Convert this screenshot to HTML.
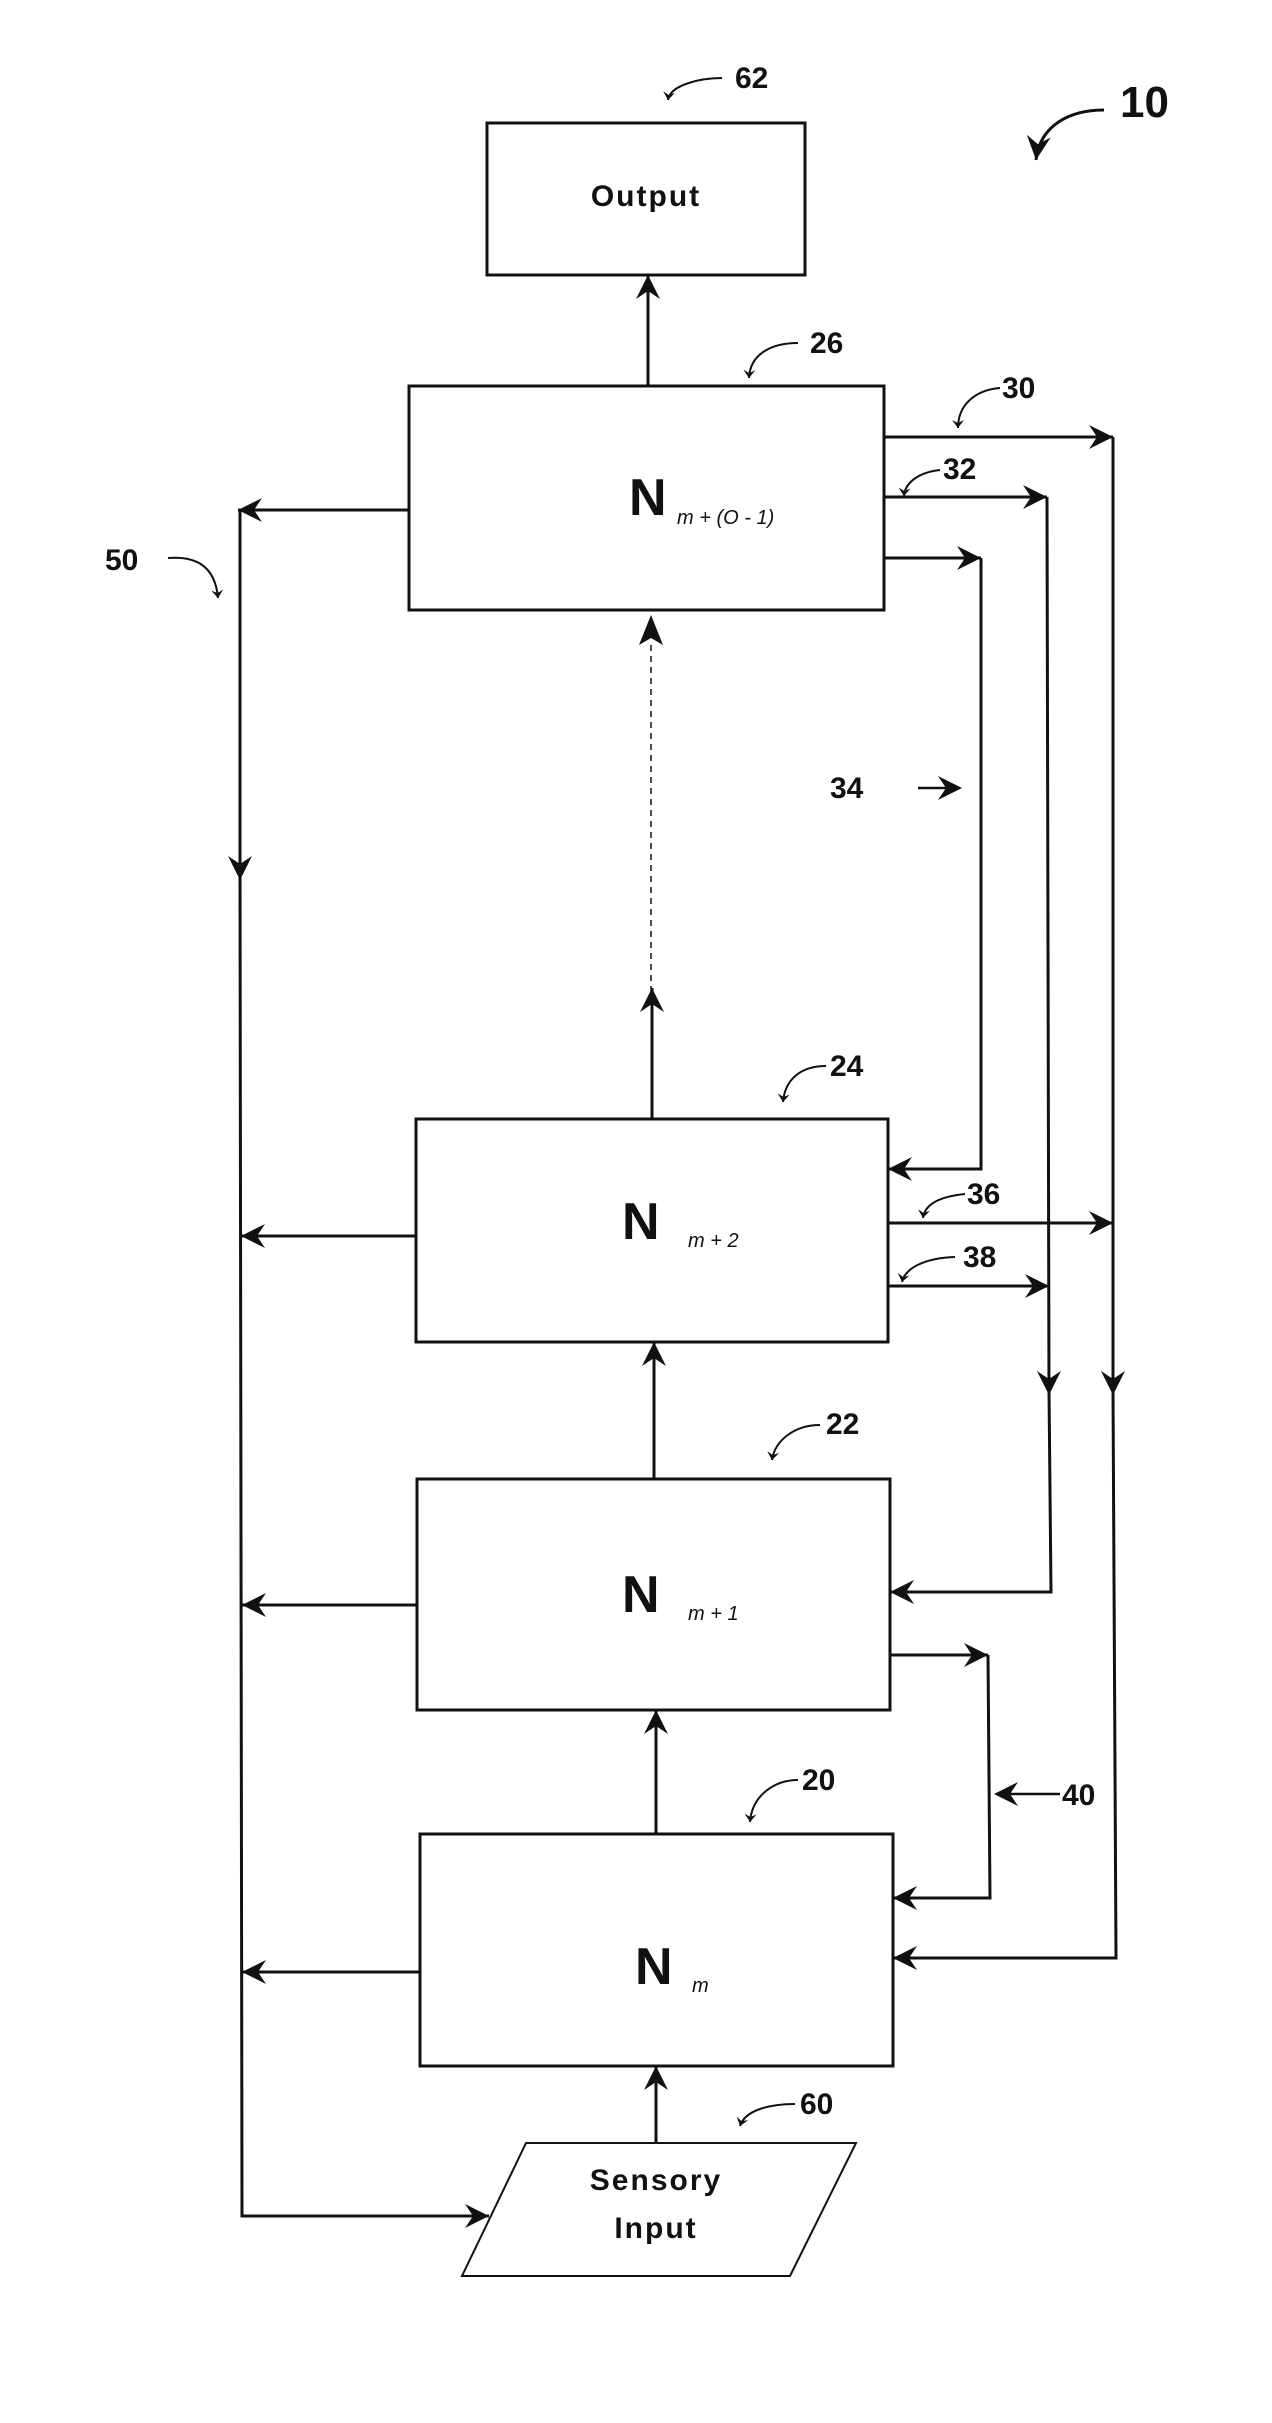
<!DOCTYPE html>
<html><head><meta charset="utf-8"><style>
html,body{margin:0;padding:0;background:#fff;}
svg{display:block;}
text{font-family:"Liberation Sans",sans-serif;fill:#111;}
</style></head><body>
<svg width="1272" height="2423" viewBox="0 0 1272 2423" xmlns="http://www.w3.org/2000/svg">
<defs>
<marker id="a" markerUnits="userSpaceOnUse" markerWidth="30" markerHeight="30" refX="24" refY="12" orient="auto">
<path d="M24,12 L0,0 L8,12 L0,24 Z" fill="#111"/>
</marker>
<marker id="s" markerUnits="userSpaceOnUse" markerWidth="16" markerHeight="16" refX="8" refY="6" orient="auto">
<path d="M8,6 L0,0 L3,6 L0,12 Z" fill="#111"/>
</marker>
</defs>
<g stroke="#111" stroke-width="3" fill="none">
<!-- boxes -->
<rect x="487" y="123" width="318" height="152"/>
<rect x="409" y="386" width="475" height="224"/>
<rect x="416" y="1119" width="472" height="223"/>
<rect x="417" y="1479" width="473" height="231"/>
<rect x="420" y="1834" width="473" height="232"/>
<path d="M526,2143 L856,2143 L790,2276 L462,2276 Z" stroke-width="2"/>
<!-- vertical up arrows -->
<line x1="648" y1="386" x2="648" y2="275" marker-end="url(#a)"/>
<line x1="652" y1="1119" x2="652" y2="988" marker-end="url(#a)"/>
<line x1="651" y1="992" x2="651" y2="640" stroke-width="1.5" stroke-dasharray="6,5"/>
<path d="M651,615 L639,645 L651,638 L663,645 Z" fill="#111" stroke="none"/>
<line x1="654" y1="1479" x2="654" y2="1342" marker-end="url(#a)"/>
<line x1="656" y1="1834" x2="656" y2="1710" marker-end="url(#a)"/>
<line x1="656" y1="2143" x2="656" y2="2066" marker-end="url(#a)"/>
<!-- left feedback -->
<line x1="409" y1="510" x2="238" y2="510" marker-end="url(#a)"/>
<line x1="240" y1="510" x2="240" y2="880" marker-end="url(#a)"/>
<polyline points="240,870 242,2216 489,2216" marker-end="url(#a)"/>
<line x1="416" y1="1236" x2="241" y2="1236" marker-end="url(#a)"/>
<line x1="417" y1="1605" x2="242" y2="1605" marker-end="url(#a)"/>
<line x1="420" y1="1972" x2="242" y2="1972" marker-end="url(#a)"/>
<!-- right feedback -->
<line x1="884" y1="437" x2="1113" y2="437" marker-end="url(#a)"/>
<line x1="884" y1="497" x2="1047" y2="497" marker-end="url(#a)"/>
<line x1="884" y1="558" x2="981" y2="558" marker-end="url(#a)"/>
<polyline points="981,558 981,1169 888,1169" marker-end="url(#a)"/>
<line x1="1113" y1="437" x2="1113" y2="1395" marker-end="url(#a)"/>
<polyline points="1113,1390 1116,1958 893,1958" marker-end="url(#a)"/>
<line x1="1047" y1="497" x2="1049" y2="1395" marker-end="url(#a)"/>
<polyline points="1049,1390 1051,1592 890,1592" marker-end="url(#a)"/>
<line x1="888" y1="1223" x2="1113" y2="1223" marker-end="url(#a)"/>
<line x1="888" y1="1286" x2="1049" y2="1286" marker-end="url(#a)"/>
<polyline points="890,1655 988,1655" marker-end="url(#a)"/>
<polyline points="988,1655 990,1898 893,1898" marker-end="url(#a)"/>
<!-- label arrows -->
<line x1="1010" y1="1794" x2="1060" y2="1794" stroke-width="2.5"/>
<path d="M994,1794 L1018,1782 L1010,1794 L1018,1806 Z" fill="#111" stroke="none"/>
<line x1="918" y1="788" x2="950" y2="788" stroke-width="2.5"/>
<path d="M962,788 L938,776 L946,788 L938,800 Z" fill="#111" stroke="none"/>
<g stroke-width="2">
<path d="M722,78 C700,78 670,85 668,100" marker-end="url(#s)"/>
<path d="M1104,110 C1070,110 1040,125 1036,160" stroke-width="3" marker-end="url(#a)"/>
<path d="M798,343 C770,343 750,355 749,378" marker-end="url(#s)"/>
<path d="M1000,388 C975,390 958,405 958,428" marker-end="url(#s)"/>
<path d="M940,470 C920,472 905,482 904,496" marker-end="url(#s)"/>
<path d="M168,558 C195,556 215,565 218,598" marker-end="url(#s)"/>
<path d="M826,1066 C800,1066 785,1080 783,1102" marker-end="url(#s)"/>
<path d="M965,1194 C945,1196 925,1202 923,1218" marker-end="url(#s)"/>
<path d="M955,1257 C925,1258 905,1268 902,1282" marker-end="url(#s)"/>
<path d="M820,1425 C795,1425 775,1440 772,1460" marker-end="url(#s)"/>
<path d="M798,1780 C775,1780 752,1795 750,1822" marker-end="url(#s)"/>
<path d="M795,2104 C770,2104 745,2110 740,2126" marker-end="url(#s)"/>
</g>
</g>
<!-- texts -->
<text x="646" y="206" font-size="30" font-weight="bold" text-anchor="middle" letter-spacing="2">Output</text>
<text x="629" y="515" font-size="52" font-weight="bold">N</text>
<text x="677" y="524" font-size="20" font-style="italic">m + (O - 1)</text>
<text x="622" y="1239" font-size="52" font-weight="bold">N</text>
<text x="688" y="1247" font-size="20" font-style="italic">m + 2</text>
<text x="622" y="1612" font-size="52" font-weight="bold">N</text>
<text x="688" y="1620" font-size="20" font-style="italic">m + 1</text>
<text x="635" y="1984" font-size="52" font-weight="bold">N</text>
<text x="692" y="1992" font-size="20" font-style="italic">m</text>
<text x="656" y="2190" font-size="30" font-weight="bold" text-anchor="middle" letter-spacing="2">Sensory</text>
<text x="656" y="2238" font-size="30" font-weight="bold" text-anchor="middle" letter-spacing="2">Input</text>
<g font-size="30" font-weight="bold">
<text x="735" y="88">62</text>
<text x="1120" y="117" font-size="44">10</text>
<text x="810" y="353">26</text>
<text x="1002" y="398">30</text>
<text x="943" y="479">32</text>
<text x="105" y="570">50</text>
<text x="830" y="798">34</text>
<text x="830" y="1076">24</text>
<text x="967" y="1204">36</text>
<text x="963" y="1267">38</text>
<text x="826" y="1434">22</text>
<text x="1062" y="1805">40</text>
<text x="802" y="1790">20</text>
<text x="800" y="2114">60</text>
</g>
</svg>
</body></html>
